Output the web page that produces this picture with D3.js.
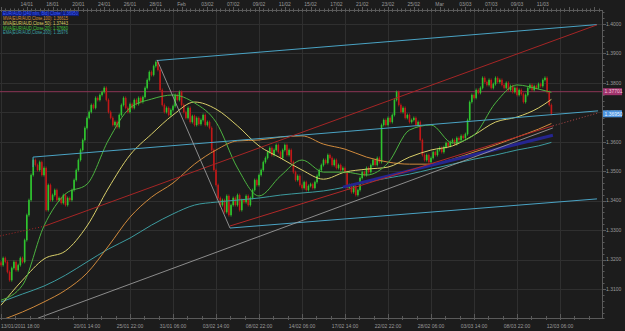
<!DOCTYPE html>
<html>
<head>
<meta charset="utf-8">
<script src="https://cdn.jsdelivr.net/npm/d3@7"></script>
<style>
html, body { margin: 0; padding: 0; background: #1c1c1c; }
svg { display: block; }
text { font-family: "Liberation Sans", Arial, sans-serif; }
</style>
</head>
<body>
<div id="chart"></div>
<script>
// ============================================
// EUR/AUD 4H candles with moving averages and trendlines
// ============================================

// close of every 4H bar (bar 0 = 13/01/2011 18:00)
const closes = [
  1.3181, 1.3205, 1.3192, 1.3158, 1.3130, 1.3171, 1.3192, 1.3164, 1.3181, 1.3205,
  1.3192, 1.3266, 1.3351, 1.3402, 1.3487, 1.3538, 1.3521, 1.3504, 1.3531, 1.3487,
  1.3511, 1.3368, 1.3453, 1.3402, 1.3419, 1.3436, 1.3402, 1.3409, 1.3392, 1.3419,
  1.3385, 1.3409, 1.3402, 1.3436, 1.3470, 1.3504, 1.3538, 1.3572, 1.3606, 1.3647,
  1.3681, 1.3701, 1.3725, 1.3715, 1.3749, 1.3742, 1.3759, 1.3769, 1.3783, 1.3742,
  1.3701, 1.3681, 1.3657, 1.3667, 1.3650, 1.3691, 1.3725, 1.3749, 1.3715, 1.3701,
  1.3728, 1.3715, 1.3742, 1.3728, 1.3749, 1.3735, 1.3752, 1.3783, 1.3810, 1.3837,
  1.3827, 1.3857, 1.3871, 1.3844, 1.3776, 1.3725, 1.3701, 1.3715, 1.3691, 1.3708,
  1.3721, 1.3759, 1.3742, 1.3769, 1.3725, 1.3701, 1.3681, 1.3715, 1.3667, 1.3687,
  1.3657, 1.3681, 1.3660, 1.3674, 1.3691, 1.3657, 1.3667, 1.3647, 1.3572, 1.3504,
  1.3453, 1.3409, 1.3385, 1.3402, 1.3361, 1.3416, 1.3351, 1.3385, 1.3409, 1.3385,
  1.3419, 1.3368, 1.3402, 1.3395, 1.3416, 1.3385, 1.3409, 1.3436, 1.3470, 1.3453,
  1.3487, 1.3504, 1.3531, 1.3545, 1.3565, 1.3579, 1.3555, 1.3572, 1.3589, 1.3565,
  1.3545, 1.3572, 1.3589, 1.3555, 1.3572, 1.3531, 1.3497, 1.3470, 1.3484, 1.3453,
  1.3443, 1.3463, 1.3436, 1.3450, 1.3456, 1.3443, 1.3463, 1.3484, 1.3504, 1.3521,
  1.3538, 1.3528, 1.3555, 1.3545, 1.3521, 1.3538, 1.3511, 1.3521, 1.3504, 1.3511,
  1.3497, 1.3443, 1.3453, 1.3429, 1.3450, 1.3419, 1.3436, 1.3477, 1.3497, 1.3487,
  1.3511, 1.3497, 1.3521, 1.3538, 1.3521, 1.3545, 1.3531, 1.3657, 1.3674, 1.3657,
  1.3681, 1.3667, 1.3691, 1.3742, 1.3769, 1.3725, 1.3701, 1.3715, 1.3681, 1.3691,
  1.3667, 1.3674, 1.3681, 1.3657, 1.3667, 1.3606, 1.3555, 1.3538, 1.3555, 1.3531,
  1.3545, 1.3565, 1.3555, 1.3572, 1.3579, 1.3565, 1.3582, 1.3596, 1.3586, 1.3599,
  1.3606, 1.3592, 1.3613, 1.3606, 1.3620, 1.3613, 1.3626, 1.3674, 1.3735, 1.3759,
  1.3749, 1.3776, 1.3766, 1.3783, 1.3817, 1.3803, 1.3793, 1.3810, 1.3783, 1.3796,
  1.3817, 1.3803, 1.3810, 1.3793, 1.3783, 1.3800, 1.3776, 1.3789, 1.3769, 1.3783,
  1.3759, 1.3776, 1.3762, 1.3735, 1.3759, 1.3783, 1.3793, 1.3776, 1.3789, 1.3783,
  1.3796, 1.3789, 1.3810, 1.3817, 1.3769, 1.3725, 1.3695
];
const firstOpen = 1.3190;

// moving averages read at these bars
const maBars = [0, 10, 20, 30, 40, 50, 60, 70, 80, 90, 100, 110, 120, 130, 140,
  150, 160, 170, 180, 190, 200, 210, 220, 230, 240, 250, 256];
const ma20 = [1.3062, 1.3113, 1.3314, 1.3423, 1.3456, 1.3606, 1.3715, 1.3745, 1.3759,
  1.3732, 1.3667, 1.3511, 1.3416, 1.3484, 1.3538, 1.3497, 1.3497, 1.3487, 1.3528,
  1.3640, 1.3657, 1.3596, 1.3623, 1.3732, 1.3793, 1.3779, 1.3768];
const ma50 = [1.3045, 1.3130, 1.3202, 1.3229, 1.3314, 1.3443, 1.3555, 1.3626, 1.3691,
  1.3735, 1.3711, 1.3654, 1.3586, 1.3545, 1.3504, 1.3473, 1.3497, 1.3507, 1.3514,
  1.3548, 1.3572, 1.3586, 1.3623, 1.3667, 1.3684, 1.3715, 1.3744];
const ma100 = [1.2994, 1.3022, 1.3056, 1.3096, 1.3154, 1.3246, 1.3344, 1.3412, 1.3460,
  1.3524, 1.3572, 1.3603, 1.3606, 1.3616, 1.3620, 1.3592, 1.3575, 1.3548, 1.3531,
  1.3524, 1.3524, 1.3541, 1.3565, 1.3589, 1.3616, 1.3643, 1.3662];
const ema200 = [1.3056, 1.3083, 1.3110, 1.3147, 1.3192, 1.3236, 1.3273, 1.3317, 1.3355,
  1.3385, 1.3395, 1.3402, 1.3409, 1.3419, 1.3426, 1.3433, 1.3446, 1.3463, 1.3477,
  1.3490, 1.3507, 1.3524, 1.3541, 1.3555, 1.3572, 1.3586, 1.3598];

// drawn trendlines, points as [bar, price]
const cyanUpper = [[72.6, 1.3878], [72.6, 1.3876], [277.2, 1.3998]];
const cyanMiddle = [[14.9, 1.3514], [14.9, 1.3548], [277.7, 1.3705]];
const cyanLower = [[106.5, 1.3307], [277.2, 1.3406]];
const redUpperDotted = [[-0.5, 1.3280], [20, 1.3313]];
const redUpper = [[20, 1.3313], [277.2, 1.3997]];
const redLower = [[106.5, 1.3314], [256.7, 1.3654]];
const redLowerDotted = [[256.7, 1.3654], [277.7, 1.3698]];
const greyDrop = [[72.6, 1.3878], [106.5, 1.3307]];
const greyRise = [[17.2, 1.3001], [256.7, 1.3647]];
const blueBand = [[159, 1.3446], [256.7, 1.3622]];
const hLevel = 1.37701;
const lastPrice = 1.36950;

// axes
const priceTicks = [1.31, 1.32, 1.33, 1.34, 1.35, 1.36, 1.37, 1.38, 1.39, 1.40];
const topLabelBars = [12, 24, 36, 48, 60, 72, 84, 96, 108, 120, 132, 144, 156, 168,
  180, 192, 204, 216, 228, 240, 252];
const topLabels = ['14/01', '18/01', '20/01', '24/01', '26/01', '28/01', 'Feb', '03/02',
  '07/02', '09/02', '11/02', '15/02', '17/02', '21/02', '23/02', '25/02', 'Mar', '03/03',
  '07/03', '09/03', '11/03'];
const gridBars = [0, 20, 40, 60, 80, 100, 120, 140, 160, 180, 200, 220, 240, 260];
const bottomLabelBars = [0, 40, 60, 80, 100, 120, 140, 160, 180, 200, 220, 240, 260];
const bottomLabels = ['13/01/2011 18:00', '20/01 14:00', '25/01 22:00', '31/01 06:00',
  '03/02 14:00', '08/02 22:00', '14/02 06:00', '17/02 14:00', '22/02 22:00',
  '28/02 06:00', '03/03 14:00', '08/03 22:00', '12/03 06:00'];

const legendLines = [
  'EUR/AUD (240 min, Bid) Close: 1.36950',
  'MVA(EUR/AUD,Close,100): 1.36615',
  'MVA(EUR/AUD,Close,50): 1.37443',
  'MVA(EUR/AUD,Close,20): 1.37680',
  'EMA(EUR/AUD,Close,200): 1.35976'
];

// ---- layout ----
const W = 625, H = 331;
const plot = { left: 0, right: 602, top: 10, bottom: 318 };

const x = d3.scaleLinear().domain([0, 280]).range([1, 1 + 280 * 2.15]);
const y = d3.scaleLinear().domain([1.31, 1.40]).range([289, 24]);

const svg = d3.select('#chart').append('svg')
  .attr('width', W).attr('height', H);

svg.append('rect').attr('width', W).attr('height', H).attr('fill', '#1c1c1c');

svg.append('defs').append('clipPath').attr('id', 'plotClip')
  .append('rect')
  .attr('x', plot.left).attr('y', plot.top)
  .attr('width', plot.right - plot.left).attr('height', plot.bottom - plot.top);

// grid
const grid = svg.append('g').attr('stroke', '#2f2f2f').attr('stroke-width', 1);
grid.selectAll('line.h').data(priceTicks).enter().append('line')
  .attr('x1', plot.left).attr('x2', plot.right)
  .attr('y1', d => Math.round(y(d)) + 0.5).attr('y2', d => Math.round(y(d)) + 0.5);
grid.selectAll('line.v').data(gridBars).enter().append('line')
  .attr('x1', d => Math.round(x(d)) + 0.5).attr('x2', d => Math.round(x(d)) + 0.5)
  .attr('y1', plot.top).attr('y2', plot.bottom);

const g = svg.append('g').attr('clip-path', 'url(#plotClip)');

// horizontal level line
g.append('line')
  .attr('x1', plot.left).attr('x2', plot.right)
  .attr('y1', y(hLevel)).attr('y2', y(hLevel))
  .attr('stroke', '#8c3556').attr('stroke-width', 1);

// candles
const bars = closes.map((c, i) => ({ i, o: i ? closes[i - 1] : firstOpen, c }));
const wickPad = 0.0005;
const candle = g.append('g');
candle.selectAll('line').data(bars).enter().append('line')
  .attr('x1', d => x(d.i)).attr('x2', d => x(d.i))
  .attr('y1', d => y(Math.max(d.o, d.c) + wickPad))
  .attr('y2', d => y(Math.min(d.o, d.c) - wickPad))
  .attr('stroke', d => d.c >= d.o ? '#2fc42f' : '#c01818')
  .attr('stroke-width', 0.8);
candle.selectAll('rect').data(bars).enter().append('rect')
  .attr('x', d => x(d.i) - 0.8)
  .attr('width', 1.6)
  .attr('y', d => y(Math.max(d.o, d.c)))
  .attr('height', d => Math.max(1, Math.abs(y(d.o) - y(d.c))))
  .attr('fill', d => d.c >= d.o ? '#2fc42f' : '#c01818');

// moving averages
const maLine = d3.line().x(d => x(d[0])).y(d => y(d[1])).curve(d3.curveMonotoneX);
const maSeries = [
  { values: ema200, color: '#3d9b9f' },
  { values: ma100, color: '#d08a3c' },
  { values: ma50, color: '#d9cf6a' },
  { values: ma20, color: '#4cb340' }
];
maSeries.forEach(s => {
  g.append('path')
    .datum(maBars.map((b, k) => [b, s.values[k]]))
    .attr('d', maLine)
    .attr('fill', 'none')
    .attr('stroke', s.color)
    .attr('stroke-width', 1);
});

// trendlines
const tl = d3.line().x(d => x(d[0])).y(d => y(d[1]));
const trend = [
  { pts: blueBand, color: '#25258f', w: 3, dash: null },
  { pts: cyanUpper, color: '#4aa3c4', w: 1, dash: null },
  { pts: cyanMiddle, color: '#4aa3c4', w: 1, dash: null },
  { pts: cyanLower, color: '#4aa3c4', w: 1, dash: null },
  { pts: redUpperDotted, color: '#a52525', w: 1, dash: '1,2' },
  { pts: redUpper, color: '#a52525', w: 1, dash: null },
  { pts: redLower, color: '#b02828', w: 1, dash: null },
  { pts: redLowerDotted, color: '#b04848', w: 1, dash: '1,2' },
  { pts: greyDrop, color: '#a8a8a8', w: 0.8, dash: null },
  { pts: greyRise, color: '#a8a8a8', w: 0.8, dash: null }
];
trend.forEach(t => {
  g.append('path').datum(t.pts).attr('d', tl)
    .attr('fill', 'none')
    .attr('stroke', t.color)
    .attr('stroke-width', t.w)
    .attr('stroke-dasharray', t.dash);
});

// ---- axes ----
const axisColor = '#5a5a5a';
const labelColor = '#9a9a9a';

// top
svg.append('line').attr('x1', 0).attr('x2', plot.right)
  .attr('y1', plot.top + 0.5).attr('y2', plot.top + 0.5)
  .attr('stroke', axisColor);
const topTicks = d3.range(0, 280, 2);
svg.append('g').selectAll('line').data(topTicks).enter().append('line')
  .attr('x1', d => Math.round(x(d)) + 0.5).attr('x2', d => Math.round(x(d)) + 0.5)
  .attr('y1', d => d % 12 === 0 ? 7 : 8.5).attr('y2', 12)
  .attr('stroke', axisColor);
svg.append('g').selectAll('text').data(topLabelBars).enter().append('text')
  .attr('x', d => x(d)).attr('y', 5.5)
  .attr('text-anchor', 'middle')
  .attr('font-size', 5)
  .attr('fill', labelColor)
  .text((d, k) => topLabels[k]);

// bottom
svg.append('line').attr('x1', 0).attr('x2', plot.right)
  .attr('y1', plot.bottom + 0.5).attr('y2', plot.bottom + 0.5)
  .attr('stroke', axisColor);
const bottomTicks = d3.range(0, 280, 20 / 3);
svg.append('g').selectAll('line').data(bottomTicks).enter().append('line')
  .attr('x1', d => Math.round(x(d)) + 0.5).attr('x2', d => Math.round(x(d)) + 0.5)
  .attr('y1', d => Math.abs(d % 20) < 0.01 ? 314 : 316).attr('y2', 320)
  .attr('stroke', axisColor);
svg.append('g').selectAll('text').data(bottomLabelBars).enter().append('text')
  .attr('x', d => d === 0 ? 1 : x(d)).attr('y', 328)
  .attr('text-anchor', d => d === 0 ? 'start' : 'middle')
  .attr('font-size', 5)
  .attr('fill', labelColor)
  .text((d, k) => bottomLabels[k]);

// right
svg.append('line').attr('x1', plot.right + 0.5).attr('x2', plot.right + 0.5)
  .attr('y1', plot.top).attr('y2', plot.bottom)
  .attr('stroke', axisColor);
const minorPrices = d3.range(1.300, 1.4051, 0.002);
svg.append('g').selectAll('line').data(minorPrices).enter().append('line')
  .attr('x1', plot.right).attr('x2', plot.right + 2.5)
  .attr('y1', d => Math.round(y(d)) + 0.5).attr('y2', d => Math.round(y(d)) + 0.5)
  .attr('stroke', axisColor);
svg.append('g').selectAll('line').data(priceTicks).enter().append('line')
  .attr('x1', plot.right).attr('x2', plot.right + 4)
  .attr('y1', d => Math.round(y(d)) + 0.5).attr('y2', d => Math.round(y(d)) + 0.5)
  .attr('stroke', axisColor);
svg.append('g').selectAll('text').data(priceTicks).enter().append('text')
  .attr('x', 606).attr('y', d => y(d) + 1.8)
  .attr('font-size', 5)
  .attr('fill', labelColor)
  .text(d => d.toFixed(4));

// price boxes
const boxes = [
  { v: hLevel, fill: '#a0336c', text: '#f0c8dc' },
  { v: lastPrice, fill: '#4f95e0', text: '#eaf4ff' }
];
boxes.forEach(b => {
  svg.append('rect')
    .attr('x', 603).attr('y', y(b.v) - 3.5)
    .attr('width', 19).attr('height', 7)
    .attr('fill', b.fill);
  svg.append('text')
    .attr('x', 604.5).attr('y', y(b.v) + 1.8)
    .attr('font-size', 5)
    .attr('fill', b.text)
    .text(b.v.toFixed(5));
});

// legend
const legendColors = ['#3b5cff', '#d6913f', '#dccf62', '#44c23a', '#3ea3a8'];
svg.append('rect').attr('x', 2).attr('y', 11.5).attr('width', 77).attr('height', 4.6)
  .attr('fill', '#0f1d78');
svg.append('g').selectAll('text').data(legendLines).enter().append('text')
  .attr('x', 3)
  .attr('y', (d, k) => 15.4 + k * 4.75)
  .attr('font-size', 4.6)
  .attr('fill', (d, k) => legendColors[k])
  .attr('textLength', (d, k) => k === 0 ? 75 : 65)
  .attr('lengthAdjust', 'spacingAndGlyphs')
  .text(d => d);
</script>
</body>
</html>
